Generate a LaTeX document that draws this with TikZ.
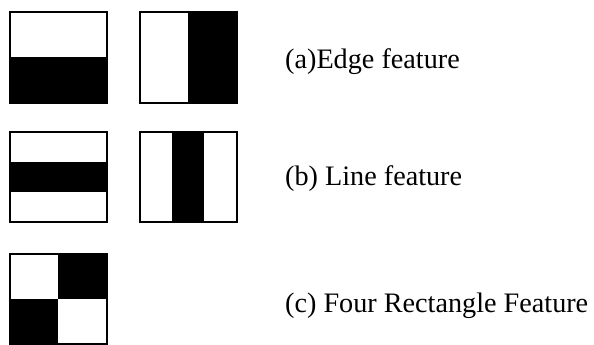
\documentclass[tikz,border=0pt]{standalone}
\usepackage{fontspec}
\setmainfont{Liberation Serif}
\begin{document}
\begin{tikzpicture}[x=1pt,y=-1pt,
  frame/.style={draw=black,line width=2pt},
  blk/.style={fill=black},
  lbl/.style={anchor=base west,inner sep=0pt,font=\fontsize{28.2}{32}\selectfont}]
\useasboundingbox (0,0) rectangle (594,345);
% row 1
\fill[blk] (10,57) rectangle (107,103);
\draw[frame] (10,12) rectangle (107,103);
\fill[blk] (188,12) rectangle (237,103);
\draw[frame] (140,12) rectangle (237,103);
% row 2
\fill[blk] (10,162) rectangle (107,192);
\draw[frame] (10,132) rectangle (107,222);
\fill[blk] (172,132) rectangle (204,222);
\draw[frame] (140,132) rectangle (237,222);
% row 3
\fill[blk] (58,254) rectangle (107,299);
\fill[blk] (10,299) rectangle (58,344);
\draw[frame] (10,254) rectangle (107,344);
% labels
\node[lbl] (la) at (285,68) {(a)Edge feature};
\node[lbl] (lb) at (285,185) {(b) Line feature};
\node[lbl] (lc) at (285,312) {(c) Four Rectangle Feature};
\end{tikzpicture}
\end{document}
